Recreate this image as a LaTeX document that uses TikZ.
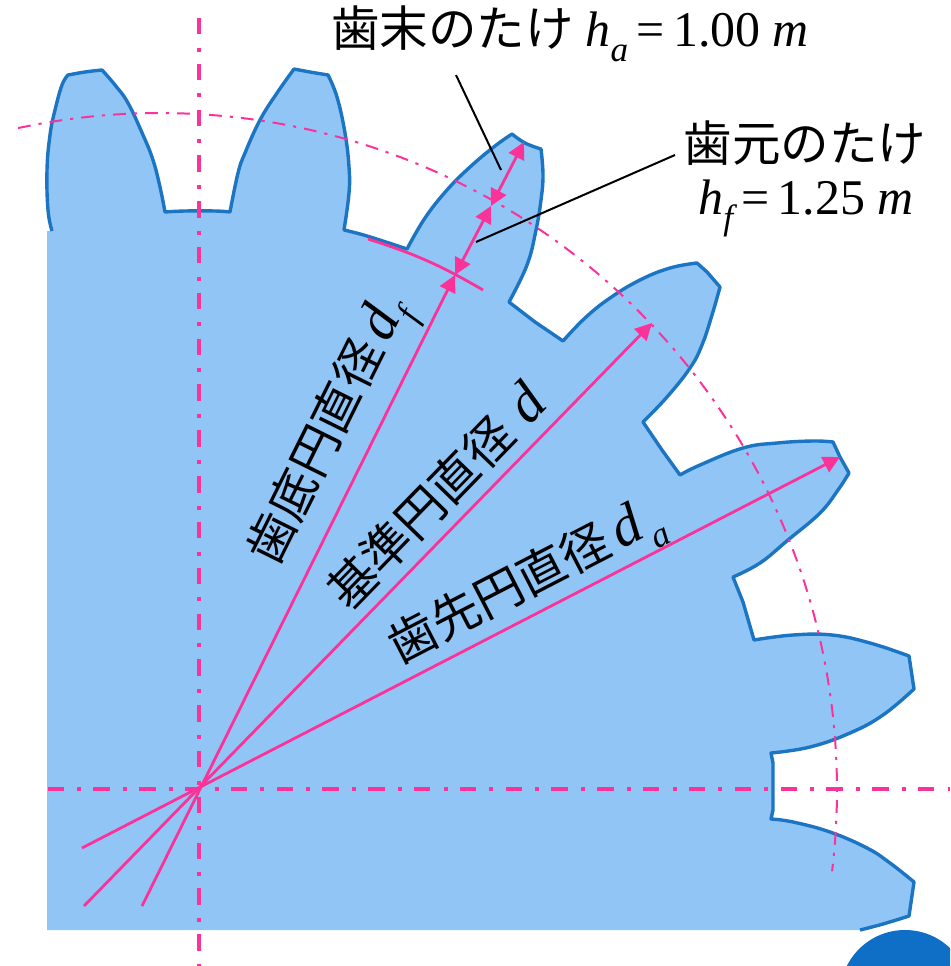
\documentclass[tikz,border=0pt]{standalone}
\usepackage{fontspec}
\setmainfont{Liberation Serif}
\newfontfamily\jpfont{Noto Sans CJK JP}
\usetikzlibrary{arrows.meta}
\definecolor{gearFill}{HTML}{91C5F6}
\definecolor{gearEdge}{HTML}{1C75C2}
\definecolor{hubBlue}{HTML}{0F6EC6}
\definecolor{linePink}{HTML}{FB3399}
\newcommand{\bigText}{\fontsize{34.5}{40}\selectfont}
\newcommand{\bigMath}[1]{{\fontsize{35.5}{40}\selectfont #1}}
\newcommand{\sideMath}[1]{{\fontsize{41}{44}\selectfont #1}}
\newcommand{\lowIdx}[1]{\raisebox{-0.3em}{\fontsize{25}{28}\selectfont\itshape #1}}
\newcommand{\gearOutline}{(52,231) -- plot[flank] coordinates {(52,231) (48,210) (47,170) (50,135) (55,110) (62,85) (68,75)} -- plot[flank] coordinates {(68,75) (85,72) (102,70)} -- plot[flank] coordinates {(102,70) (115,85) (128,103) (143,135) (153,160) (160,187) (165,212)} -- plot[flank] coordinates {(165,212) (185,211) (215,211) (230,212)} -- plot[flank] coordinates {(230,212) (238,173) (245,153) (260,120) (277,93) (294,69)} -- plot[flank] coordinates {(294,69) (310,72) (328,75)} -- plot[flank] coordinates {(328,75) (337,97) (345,133) (349,167) (349,193) (344,230)} -- plot[flank] coordinates {(344,230) (367,236) (407,249)} -- plot[flank] coordinates {(407,249) (425,218) (447,190) (470,167) (495,146) (512,134)} -- plot[flank] coordinates {(512,134) (525,143) (541,149)} -- plot[flank] coordinates {(541,149) (543,175) (541,200) (536,230) (527,265) (509,302)} -- (535,322) -- (563,341) -- plot[flank] coordinates {(563,341) (585,318) (610,298) (640,280) (670,268) (697,263)} -- (707,272) -- (720,287) -- plot[flank] coordinates {(720,287) (712,315) (702,345) (690,368) (667,397) (643,422)} -- (662,450) -- (680,475) -- plot[flank] coordinates {(680,475) (700,465) (743,448) (777,443) (813,441) (833,442)} -- (840,457) -- (849,473) -- plot[flank] coordinates {(849,473) (838,490) (820,513) (788,540) (760,563) (733,577)} -- (743,602) -- (754,640) -- plot[flank] coordinates {(754,640) (793,635) (832,635) (870,643) (909,656)} -- (914,689) -- plot[flank] coordinates {(914,689) (883,715) (850,733) (810,747) (771,753)} -- (773,763) -- (773,810) -- (771,819) -- plot[flank] coordinates {(771,819) (793,822) (830,832) (867,848) (890,863) (914,882)} -- (909,916) -- plot[flank] coordinates {(909,916) (883,924) (860,930)}}
\tikzset{
  flank/.style={smooth, tension=0.7},
  gearLine/.style={gearEdge, line width=0.085cm, line join=round},
  axisLine/.style={linePink, line width=0.1cm, dash pattern=on 0.41cm off 0.33cm on 0.1cm off 0.305cm},
  pitchLine/.style={linePink, line width=0.05cm, dash pattern=on 0.32cm off 0.2cm on 0.08cm off 0.2cm},
  dimLine/.style={linePink, line width=0.07cm, >={Triangle[length=0.42cm, width=0.42cm]}},
  leaderLine/.style={black, line width=0.05cm},
  labelText/.style={font=\bigText, inner sep=0pt, anchor=center}
}
\begin{document}
\begin{tikzpicture}[x=0.025cm, y=-0.025cm]
\useasboundingbox (0,0) rectangle (950,966);
\clip (0,0) rectangle (950,966);
\fill[hubBlue] (905,995) circle (65);
\fill[gearFill] \gearOutline -- (47,930) -- (47,231) -- cycle;
\draw[gearLine] \gearOutline;
\draw[axisLine] (199,18) -- (199,966);
\draw[axisLine] (47.5,789) -- (950,789);
\draw[pitchLine] plot[domain=102.1:-6.9, samples=120] ({160+677*cos(\x)},{790-677*sin(\x)});

\coordinate (tailRoot) at (142,906);
\coordinate (tailPitch) at (84,906);
\coordinate (tailTip) at (82,848);
\coordinate (endRoot) at (455,275);
\coordinate (endPitch) at (652,323);
\coordinate (endTip) at (840,457);
\coordinate (toothTop) at (524,142);
\coordinate (toothPitch) at (491,206);
\coordinate (rootLeft) at (368,239);
\coordinate (rootRight) at (483,290);
\draw[dimLine, ->] (tailRoot) -- (endRoot);
\draw[dimLine, ->] (tailPitch) -- (endPitch);
\draw[dimLine, ->] (tailTip) -- (endTip);
\draw[dimLine, <->] (toothPitch) -- (toothTop);
\draw[dimLine, <->] (endRoot) -- (toothPitch);
\draw[dimLine] (rootLeft) to[bend left=6.3] (rootRight);

\node[labelText] (addendumLabel) at (570,34) {{\jpfont 歯末のたけ} \bigMath{\textit{h}\lowIdx{a}\,=\,1.00 \textit{m}}};
\node[labelText] (dedendumLabel) at (805,143) {\jpfont 歯元のたけ};
\node[labelText] (dedendumValue) at (806,208) {\bigMath{\textit{h}\lowIdx{f}\,=\,1.25 \textit{m}}};
\node[labelText, rotate=63.6] (rootLabel) at (334,434.5) {{\jpfont 歯底円直径}\,\sideMath{\textit{d}\lowIdx{f}}};
\node[labelText, rotate=45.8] (pitchLabel) at (436,496) {{\jpfont 基準円直径}\,\,\sideMath{\textit{d}}};
\node[labelText, rotate=27.3] (tipLabel) at (527,585) {{\jpfont 歯先円直径}\,\sideMath{\textit{d}\hspace{0.05em}\lowIdx{a}}};

\coordinate (addendumEnd) at (456,75);
\coordinate (addendumFoot) at (501,170);
\coordinate (dedendumEnd) at (675,155);
\coordinate (dedendumFoot) at (476,242);
\draw[leaderLine] (addendumEnd) -- (addendumFoot);
\draw[leaderLine] (dedendumEnd) -- (dedendumFoot);
\end{tikzpicture}
\end{document}
